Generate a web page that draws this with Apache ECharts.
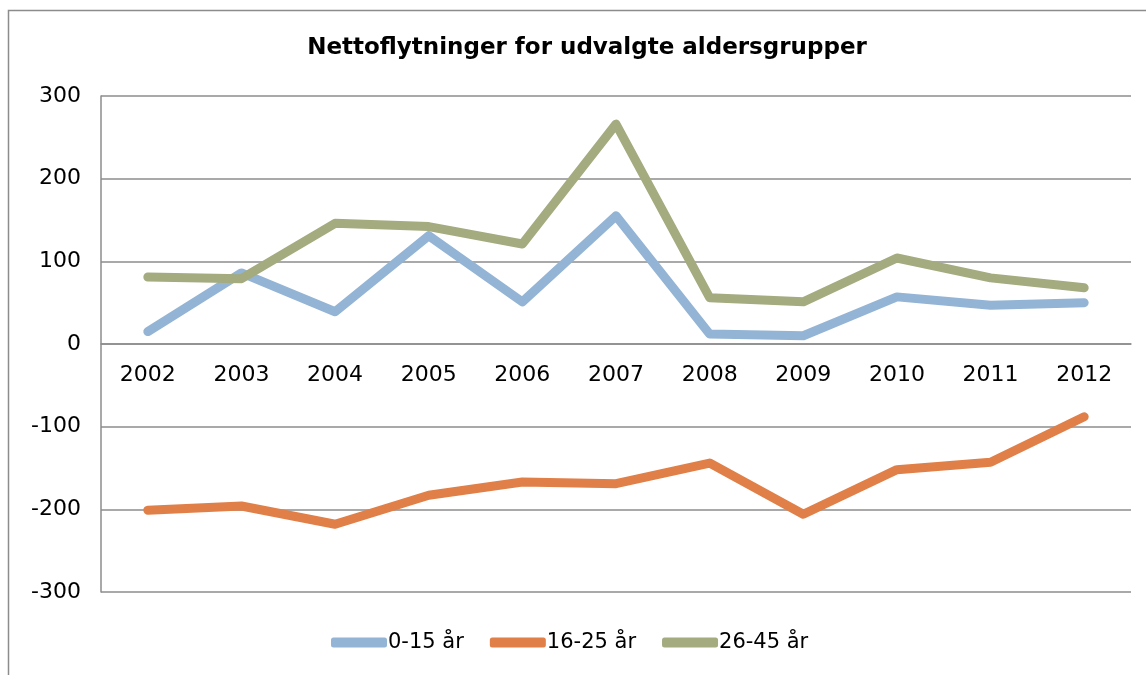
<!DOCTYPE html>
<html><head><meta charset="utf-8">
<script src="https://cdn.jsdelivr.net/npm/echarts@6/dist/echarts.min.js"></script>
<style>html,body{margin:0;padding:0;background:#fff}#c{width:1146px;height:675px}</style>
</head><body><div id="c"></div>
<script>
const years = ['2002','2003','2004','2005','2006','2007','2008','2009','2010','2011','2012'];
const age0_15 = [15, 86, 39, 131, 51, 155, 12, 10, 57, 47, 50];
const age16_25 = [-201, -196, -218, -183, -167, -169, -144, -206, -152, -143, -88];
const age26_45 = [81, 79, 146, 142, 121, 266, 56, 51, 104, 80, 68];
const names = ['0-15 år', '16-25 år', '26-45 år'];
const colors = ['#93b4d4', '#e07f47', '#a3ab7f'];
const font = '"DejaVu Sans", sans-serif';
const chart = echarts.init(document.getElementById('c'));
const mk = (name, data, color) => ({
  name, type: 'line', data, symbol: 'none', smooth: false,
  lineStyle: {color, width: 9, cap: 'round', join: 'round'}, itemStyle: {color}
});
chart.setOption({
  animation: false,
  title: {text: 'Nettoflytninger for udvalgte aldersgrupper', left: 582, top: 32, textAlign: 'center',
    textStyle: {fontFamily: font, fontSize: 23, fontWeight: 'bold', color: '#000'}},
  graphic: [{type: 'rect', shape: {x: 8.5, y: 10.5, width: 1160, height: 700}, style: {fill: 'none', stroke: '#8c8c8c', lineWidth: 1.5}, silent: true}],
  legend: {bottom: 17, left: 326, itemWidth: 56, itemHeight: 10, itemGap: 26,
    textStyle: {fontFamily: font, fontSize: 21, color: '#000', padding: [0,0,0,-4]},
    icon: 'roundRect', data: names},
  grid: {left: 101, right: 15, top: 96, bottom: 83, containLabel: false},
  xAxis: {type: 'category', data: years, boundaryGap: true, position: 'bottom', offset: -248,
    axisLine: {onZero: false, lineStyle: {color: '#8c8c8c', width: 1.5}},
    axisTick: {show: false},
    axisLabel: {fontFamily: font, fontSize: 22, color: '#000', margin: 20}},
  yAxis: {type: 'value', min: -300, max: 300, interval: 100,
    axisLine: {show: true, lineStyle: {color: '#8c8c8c', width: 1.5}},
    axisTick: {show: false},
    splitLine: {lineStyle: {color: '#8c8c8c', width: 1.5}},
    axisLabel: {fontFamily: font, fontSize: 22, color: '#000', margin: 20}},
  series: [mk(names[0], age0_15, colors[0]), mk(names[1], age16_25, colors[1]), mk(names[2], age26_45, colors[2])]
});
</script></body></html>
